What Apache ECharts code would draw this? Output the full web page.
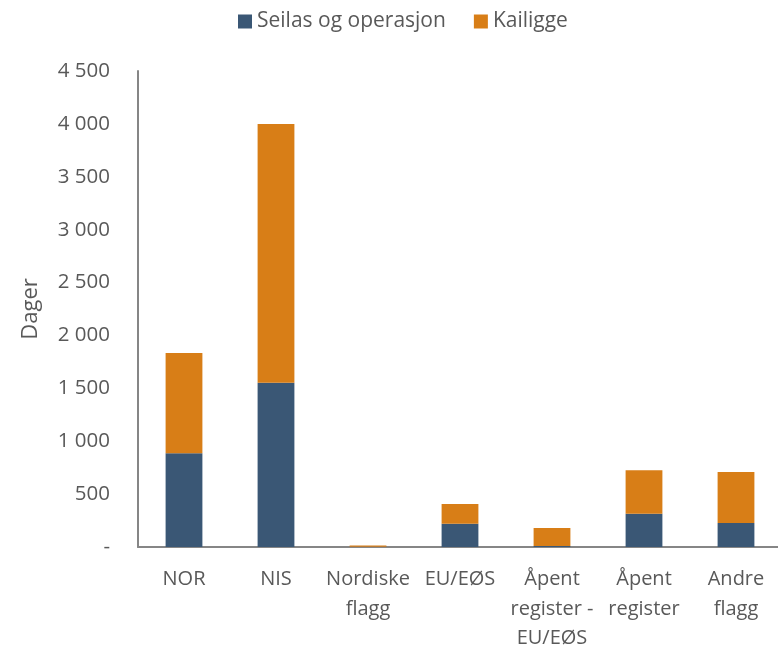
<!DOCTYPE html>
<html>
<head>
<meta charset="utf-8">
<script src="https://cdn.jsdelivr.net/npm/echarts@6/dist/echarts.min.js"></script>
<style>
  html, body { margin: 0; padding: 0; background: #fff; }
  #main { width: 778px; height: 647px; }
</style>
</head>
<body>
<div id="main"></div>
<script>
// data
var categories = ['NOR', 'NIS', 'Nordiske\nflagg', 'EU/EØS', 'Åpent\nregister -\nEU/EØS', 'Åpent\nregister', 'Andre\nflagg'];
var seilas = [886, 1553, 2, 220, 10, 315, 227];
var kailigge = [948, 2447, 12, 186, 170, 410, 482];
var seriesNames = ['Seilas og operasjon', 'Kailigge'];

var font = 'Open Sans';
var textColor = '#595959';

var dom = document.getElementById('main');
var myChart = echarts.init(dom, null, { renderer: 'canvas' });

var option = {
    animation: false,
    textStyle: { fontFamily: font },
    legend: {
        data: seriesNames,
        top: 6,
        left: 233,
        itemWidth: 14,
        itemHeight: 14,
        itemGap: 28,
        icon: 'rect',
        textStyle: { fontSize: 21, color: textColor, fontFamily: font }
    },
    grid: {
        left: 138,
        right: -4,
        top: 71,
        bottom: 100,
        outerBoundsMode: 'none'
    },
    xAxis: {
        type: 'category',
        data: categories,
        axisLine: { lineStyle: { color: '#868686', width: 2 } },
        axisTick: { show: false },
        axisLabel: {
            interval: 0,
            color: textColor,
            fontSize: 20,
            lineHeight: 29.5,
            margin: 18,
            fontFamily: font
        }
    },
    yAxis: {
        type: 'value',
        min: 0,
        max: 4500,
        interval: 500,
        name: 'Dager',
        nameLocation: 'middle',
        nameGap: 96,
        nameTextStyle: { fontSize: 22, color: textColor, fontFamily: font },
        axisLine: { show: true, lineStyle: { color: '#868686', width: 2 } },
        axisTick: { show: false },
        splitLine: { show: false },
        axisLabel: {
            color: textColor,
            fontSize: 20.5,
            margin: 28,
            fontFamily: font,
            formatter: function (v) {
                if (v === 0) return '-';
                return String(v).replace(/\B(?=(\d{3})+(?!\d))/g, ' ');
            }
        }
    },
    series: [
        {
            name: seriesNames[0],
            type: 'bar',
            stack: 'total',
            data: seilas,
            barWidth: '40%',
            itemStyle: { color: '#3a5775' }
        },
        {
            name: seriesNames[1],
            type: 'bar',
            stack: 'total',
            data: kailigge,
            barWidth: '40%',
            itemStyle: { color: '#d87e17' }
        }
    ]
};

myChart.setOption(option);
</script>
</body>
</html>
